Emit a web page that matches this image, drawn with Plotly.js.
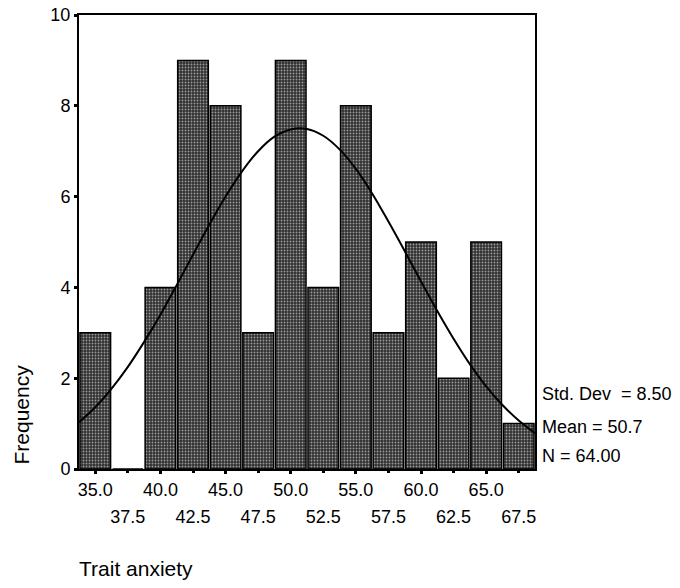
<!DOCTYPE html>
<html>
<head>
<meta charset="utf-8">
<script src="https://cdn.plot.ly/plotly-3.0.1.min.js"></script>
<style>html,body{margin:0;padding:0;background:#fff;}#chart{width:680px;height:588px;}</style>
</head>
<body>
<div id="chart"></div>
<script>
// Bin centres and frequencies (Trait anxiety)
const binCenters = [35.0, 37.5, 40.0, 42.5, 45.0, 47.5, 50.0, 52.5, 55.0, 57.5, 60.0, 62.5, 65.0, 67.5];
const frequencies = [3, 0, 4, 9, 8, 3, 9, 4, 8, 3, 5, 2, 5, 1];

// Fitted normal curve
const curveX = [33.75, 35, 36.25, 37.5, 38.75, 40, 41.25, 42.5, 43.75, 45, 46.25, 47.5, 48.75, 50,
                51.25, 52.5, 53.75, 55, 56.25, 57.5, 58.75, 60, 61.25, 62.5, 63.75, 65, 66.25, 67.5, 68.75];
const curveY = [1.03, 1.36, 1.77, 2.25, 2.80, 3.40, 4.05, 4.72, 5.38, 6.00, 6.55, 7.00, 7.32, 7.48,
                7.49, 7.34, 7.04, 6.61, 6.07, 5.45, 4.80, 4.13, 3.48, 2.87, 2.31, 1.82, 1.41, 1.07, 0.79];

// Tick labels (two staggered rows)
const tickRow1 = [35.0, 40.0, 45.0, 50.0, 55.0, 60.0, 65.0];
const tickRow2 = [37.5, 42.5, 47.5, 52.5, 57.5, 62.5, 67.5];
const yTicks = [0, 2, 4, 6, 8, 10];

const statLines = ['Std. Dev  = 8.50', 'Mean = 50.7', 'N = 64.00'];
const statY = [1.65, 0.92, 0.28];
const xTitle = 'Trait anxiety';
const yTitle = 'Frequency';

const FONT = 'Arial, "Liberation Sans", sans-serif';

const bars = {
  type: 'bar',
  x: binCenters,
  y: frequencies,
  width: 2.5 * 0.94,
  marker: {
    color: '#333',
    line: {color: '#000', width: 1.5},
    pattern: {shape: '.', fgcolor: '#9a9a9a', bgcolor: '#303030', size: 3, solidity: 0.3}
  },
  hoverinfo: 'none',
  showlegend: false
};

const curve = {
  type: 'scatter',
  mode: 'lines',
  x: curveX,
  y: curveY,
  line: {color: '#000', width: 2, shape: 'spline'},
  hoverinfo: 'none',
  showlegend: false
};

// invisible trace on the second x axis so it is drawn
const row2Carrier = {
  type: 'scatter', mode: 'markers', x: tickRow2, y: tickRow2.map(() => 0),
  xaxis: 'x2', marker: {opacity: 0}, hoverinfo: 'none', showlegend: false
};

const annotations = [
  {text: xTitle, xref: 'paper', yref: 'paper', x: 0.125, y: -0.22, xanchor: 'center', yanchor: 'middle',
   showarrow: false, font: {family: FONT, size: 21, color: '#000'}},
  {text: yTitle, xref: 'paper', yref: 'paper', x: 0, y: 0.12, xshift: -57, textangle: -90,
   xanchor: 'center', yanchor: 'middle', showarrow: false, font: {family: FONT, size: 21, color: '#000'}}
];
statLines.forEach((s, i) => {
  annotations.push({text: s.replace('  ', '&nbsp; '), xref: 'paper', yref: 'y', x: 1, xshift: 5, y: statY[i],
    xanchor: 'left', yanchor: 'middle', showarrow: false, font: {family: FONT, size: 18, color: '#000'}});
});

const layout = {
  width: 680, height: 588,
  margin: {l: 79, r: 145, t: 15, b: 119},
  paper_bgcolor: '#fff', plot_bgcolor: '#fff',
  font: {family: FONT, size: 18, color: '#000'},
  bargap: 0,
  xaxis: {
    range: [33.75, 68.75], tickvals: tickRow1, ticktext: tickRow1.map(v => v.toFixed(1)),
    ticks: 'outside', ticklen: 3, tickwidth: 3, tickcolor: '#000',
    showline: true, linecolor: '#000', linewidth: 2, mirror: true,
    showgrid: false, zeroline: false, fixedrange: true,
    tickfont: {family: FONT, size: 18, color: '#000'}
  },
  xaxis2: {
    overlaying: 'x', matches: 'x', side: 'bottom', anchor: 'y',
    range: [33.75, 68.75], tickvals: tickRow2, ticktext: tickRow2.map(v => v.toFixed(1)),
    ticks: 'outside', ticklen: 3, tickwidth: 3, tickcolor: '#000',
    ticklabelstandoff: 28,
    showline: false, showgrid: false, zeroline: false,
    tickfont: {family: FONT, size: 18, color: '#000'}
  },
  yaxis: {
    range: [0, 10], tickvals: yTicks, ticktext: yTicks.map(String),
    ticks: 'outside', ticklen: 3, tickwidth: 3, tickcolor: '#000',
    showline: true, linecolor: '#000', linewidth: 2, mirror: true,
    showgrid: false, zeroline: false, fixedrange: true,
    tickfont: {family: FONT, size: 18, color: '#000'}
  },
  annotations: annotations
};

Plotly.newPlot('chart', [bars, curve, row2Carrier], layout, {displayModeBar: false, staticPlot: true});
</script>
</body>
</html>
